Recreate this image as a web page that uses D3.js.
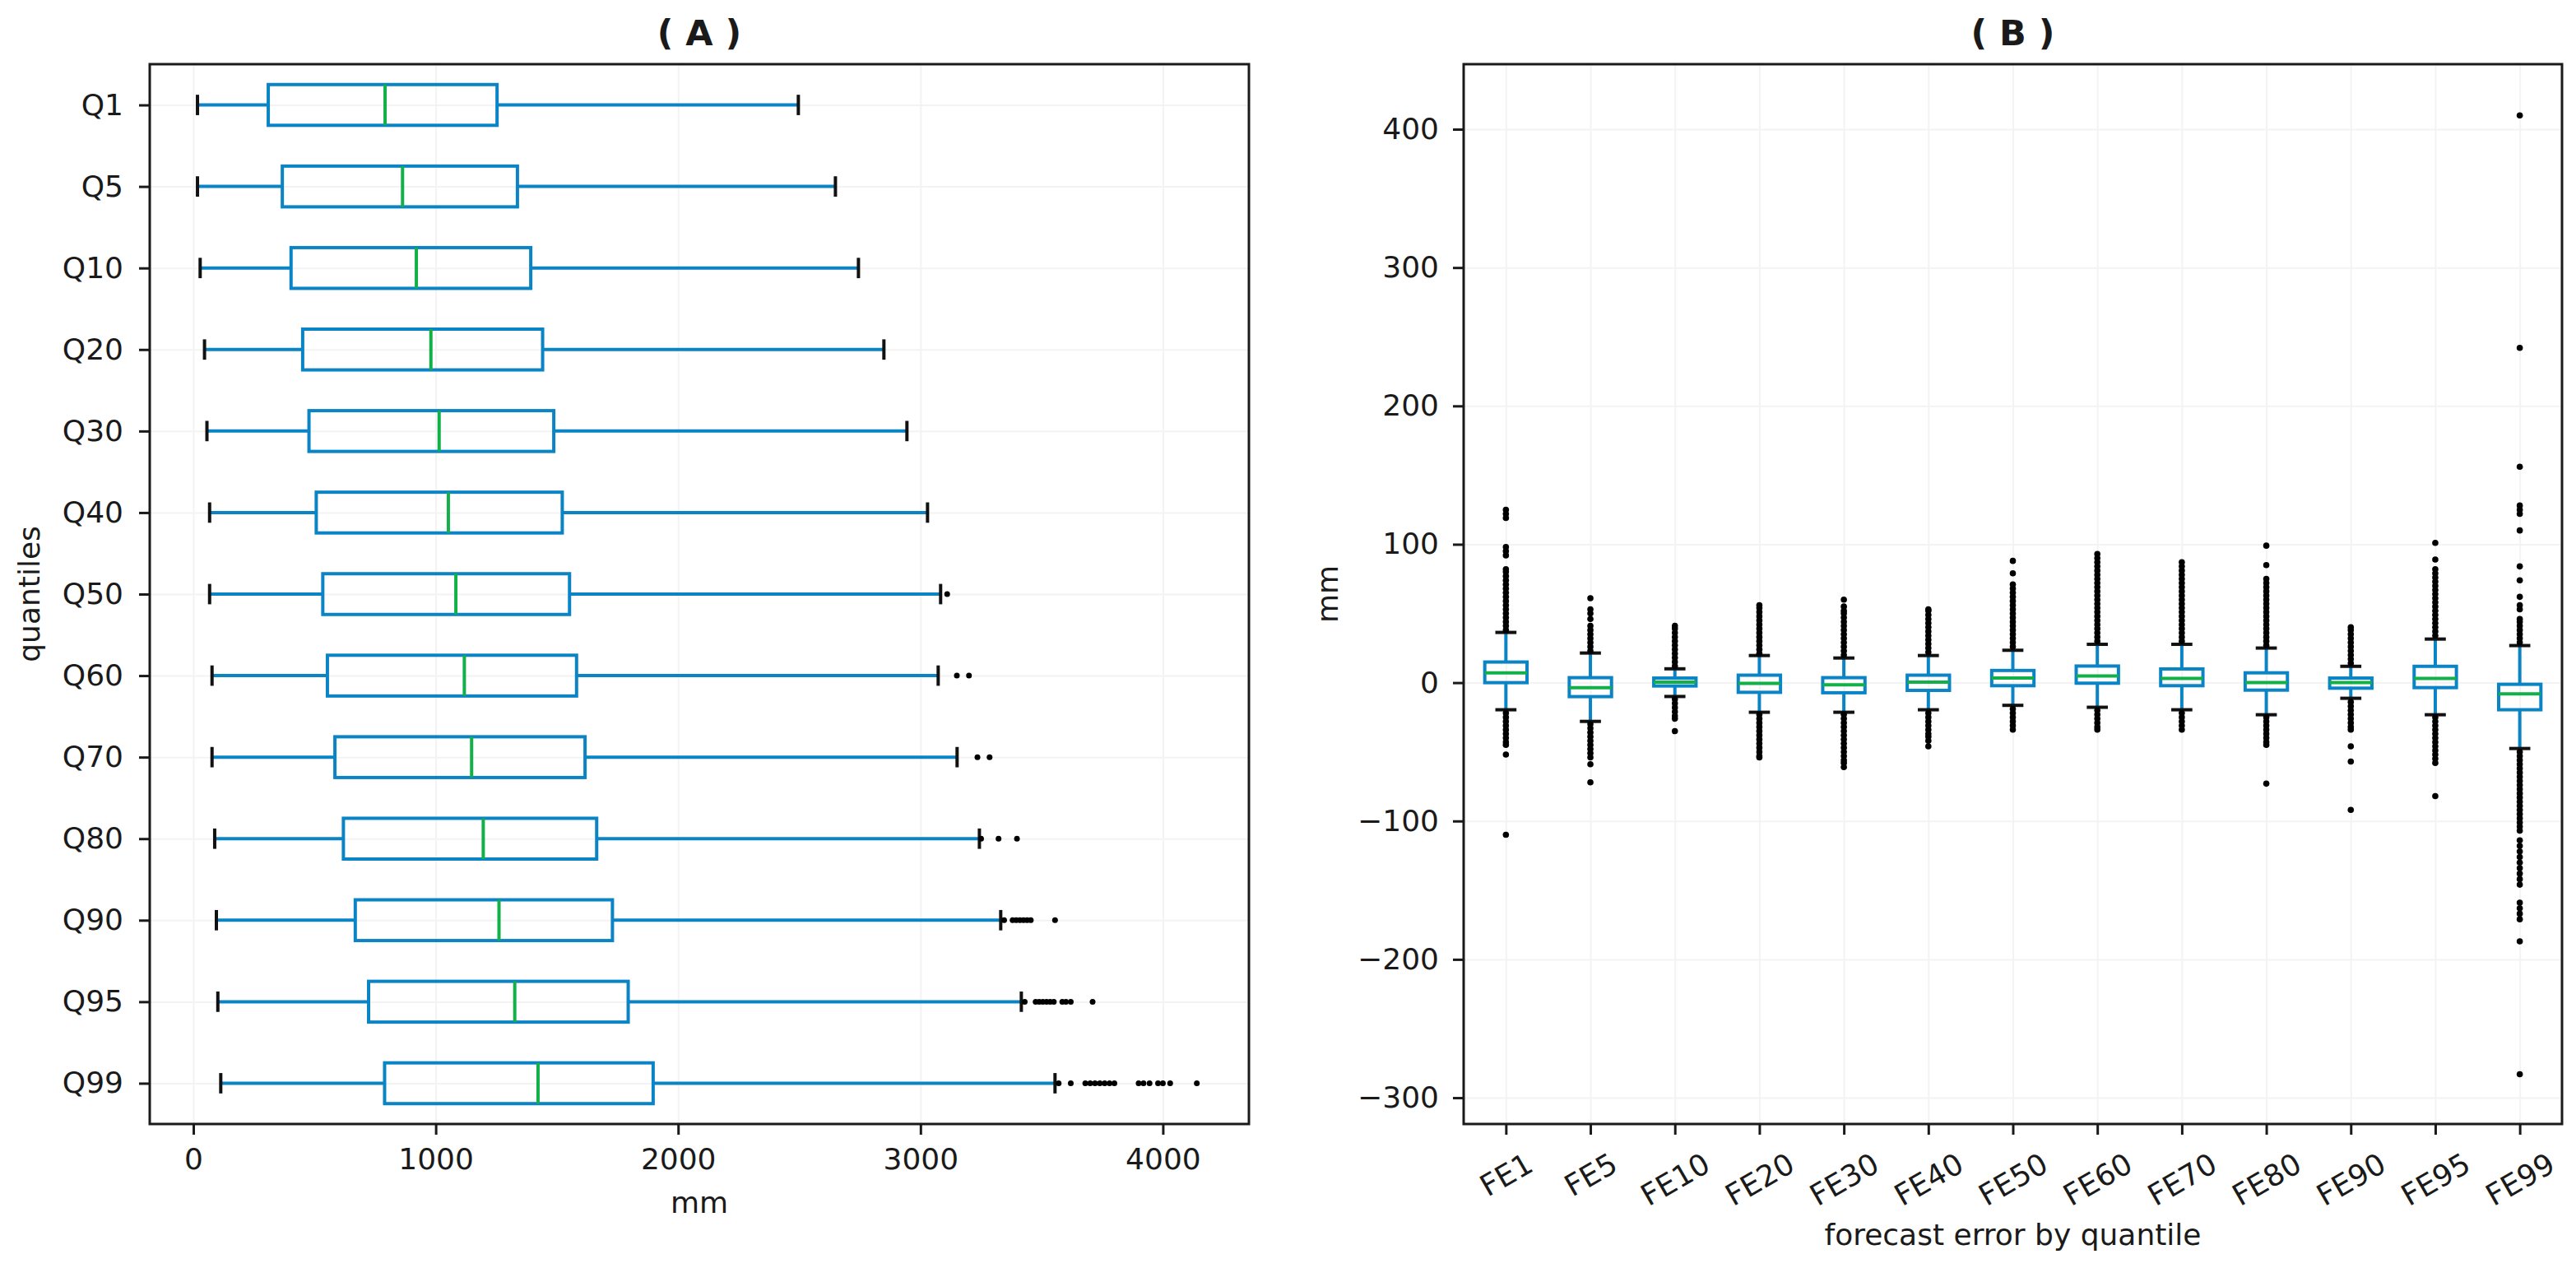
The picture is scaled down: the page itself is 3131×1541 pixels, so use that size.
<!DOCTYPE html>
<html lang="en">
<head>
<meta charset="UTF-8">
<title>Quantile boxplots</title>
<script src="https://cdnjs.cloudflare.com/ajax/libs/d3/7.8.5/d3.min.js"></script>
<style>
  body { margin: 0; background: #fff; }
  text { font-family: "DejaVu Sans", sans-serif; fill: #1a1a1a; }
</style>
</head>
<body>
<div id="draw-here"></div>
<script>
/* global d3 */

// ---- panel A: values by quantile (mm) ----
var qLabels = ["Q1","Q5","Q10","Q20","Q30","Q40","Q50","Q60","Q70","Q80","Q90","Q95","Q99"];
var qLow  = [17, 17, 28, 46, 56, 67, 67, 77, 77, 88, 95, 101, 113];
var qQ1   = [309, 367, 403, 451, 477, 507, 534, 553, 584, 619, 668, 723, 789];
var qMed  = [791, 863, 920, 980, 1014, 1052, 1083, 1118, 1148, 1196, 1261, 1326, 1422];
var qQ3   = [1253, 1337, 1392, 1441, 1487, 1522, 1552, 1581, 1616, 1664, 1729, 1794, 1897];
var qHigh = [2496, 2649, 2744, 2849, 2944, 3029, 3083, 3073, 3151, 3243, 3331, 3416, 3555];
var qOut  = [
    [], [], [], [], [], [],
    [3110],
    [3150, 3200],
    [3235, 3285],
    [3250, 3322, 3398],
    [3345, 3380, 3395, 3410, 3425, 3440, 3455, 3555],
    [3430, 3475, 3490, 3505, 3520, 3535, 3550, 3585, 3600, 3620, 3710],
    [3570, 3620, 3680, 3700, 3720, 3740, 3760, 3780, 3800, 3900, 3920, 3945, 3980, 4000, 4030, 4140]
];
var qTicks = [0, 1000, 2000, 3000, 4000];

// ---- panel B: forecast error by quantile (mm) ----
var feLabels = ["FE1","FE5","FE10","FE20","FE30","FE40","FE50","FE60","FE70","FE80","FE90","FE95","FE99"];
var feLow  = [-19.6, -28, -10, -21.4, -21.4, -19.6, -16.4, -17.8, -19.6, -23.2, -11.3, -23.2, -47.6];
var feQ1   = [0, -10.1, -2.4, -7, -7.3, -5.6, -2.2, -0.4, -2.2, -5.4, -4, -3.6, -19.6];
var feMed  = [7.1, -3.6, 0.3, -0.5, -1.5, 0.3, 3.3, 4.8, 3, 0, 0, 3, -8.1];
var feQ3   = [14.9, 3.6, 3.3, 5.4, 3.6, 5.4, 8.8, 12, 9.9, 7.1, 3.3, 11.8, -1.2];
var feHigh = [36.3, 21.4, 10, 19.6, 17.8, 19.6, 23.4, 27.7, 27.7, 25, 11.8, 31.5, 26.8];
var feOut  = [
    [38,41,44,47,50,53,56,59,62,65,68,71,74,77,80,82,92,95,98,119,122,125, -22,-25,-28,-31,-34,-37,-40,-43,-45,-52,-110],
    [23,26,29,32,35,38,41,46,50,53,61, -30,-33,-36,-39,-42,-45,-48,-51,-54,-59,-72],
    [12,15,18,21,24,27,30,33,36,39,41, -12,-15,-18,-21,-24,-26,-35],
    [21,24,27,30,33,36,39,42,45,48,51,54,56, -23,-26,-29,-32,-35,-38,-41,-44,-47,-50,-53,-54],
    [20,23,26,29,32,35,38,41,44,47,50,52,55,60, -23,-26,-29,-32,-35,-38,-41,-44,-47,-50,-53,-56,-58,-61],
    [22,25,28,31,34,37,40,43,46,49,52,53, -22,-25,-28,-31,-34,-37,-39,-42,-46],
    [26,29,32,35,38,41,44,47,50,53,56,59,62,65,68,71,79,88, -19,-22,-25,-28,-31,-34],
    [30,33,36,39,42,45,48,51,54,57,60,63,66,69,72,75,78,81,84,87,90,93, -20,-23,-26,-29,-32,-34],
    [30,33,36,39,42,45,48,51,54,57,60,63,66,69,72,75,78,81,84,87, -22,-25,-28,-31,-34],
    [27,30,33,36,39,42,45,48,51,54,57,60,63,66,69,72,75,85,99, -25,-28,-31,-34,-37,-40,-43,-45,-73],
    [14,17,20,23,26,29,32,35,38,40, -14,-17,-20,-23,-26,-29,-32,-34,-46,-57,-92],
    [34,37,40,43,46,49,52,55,58,61,64,67,70,73,76,79,82,89,101, -25,-28,-31,-34,-37,-40,-43,-46,-49,-52,-55,-58,-82],
    [29,32,35,38,41,44,46,53,56,62,74,84,110,122,125,128,156,242,410,
     -50,-53,-56,-59,-62,-65,-68,-71,-74,-77,-80,-83,-86,-89,-92,-95,-98,-101,-104,-107,
     -114,-118,-122,-126,-130,-134,-138,-142,-146,-159,-163,-167,-171,-187,-283]
];
var feTicks = [-300, -200, -100, 0, 100, 200, 300, 400];

// colours and sizes
var boxColor = "#0b84c6";
var medColor = "#12b048";
var capColor = "#111111";
var gridColor = "#f3f3f3";
var lw = 4;
var fs = 36;

var w = 3131, h = 1541;
var plotTop = 78, plotBottom = 1366;
var aLeft = 182, aRight = 1518;
var bLeft = 1779, bRight = 3114;

var svg = d3.select("#draw-here")
    .append("svg")
    .attr("width", w)
    .attr("height", h);

// scales
var xA = d3.scaleLinear().domain([-180, 4355]).range([aLeft, aRight]);
var yA = d3.scalePoint().domain(qLabels).range([plotTop, plotBottom]).padding(0.5);
var xB = d3.scalePoint().domain(feLabels).range([bLeft, bRight]).padding(0.5);
var yB = d3.scaleLinear().domain([-319, 447]).range([plotBottom, plotTop]);

function style_grid(g) {
    g.select(".domain").remove();
    g.selectAll("line").attr("stroke", gridColor).attr("stroke-width", 2);
}

function style_axis(g) {
    g.select(".domain").remove();
    g.attr("font-size", fs).attr("font-family", "DejaVu Sans").attr("color", "#1a1a1a");
    g.selectAll("line").attr("stroke-width", 3);
}

// ---- grids ----
svg.append("g").attr("transform", "translate(0," + plotBottom + ")")
    .call(d3.axisBottom(xA).tickValues(qTicks).tickSize(-(plotBottom - plotTop)).tickFormat(""))
    .call(style_grid);
svg.append("g").attr("transform", "translate(" + aLeft + ",0)")
    .call(d3.axisLeft(yA).tickSize(-(aRight - aLeft)).tickFormat(""))
    .call(style_grid);
svg.append("g").attr("transform", "translate(0," + plotBottom + ")")
    .call(d3.axisBottom(xB).tickSize(-(plotBottom - plotTop)).tickFormat(""))
    .call(style_grid);
svg.append("g").attr("transform", "translate(" + bLeft + ",0)")
    .call(d3.axisLeft(yB).tickValues(feTicks).tickSize(-(bRight - bLeft)).tickFormat(""))
    .call(style_grid);

// ---- panel A boxes (horizontal) ----
var gA = svg.append("g");
var halfA = yA.step() * 0.25;
qLabels.forEach(function(q, i) {
    var y = yA(q);
    gA.append("line").attr("x1", xA(qLow[i])).attr("x2", xA(qQ1[i])).attr("y1", y).attr("y2", y)
        .attr("stroke", boxColor).attr("stroke-width", lw);
    gA.append("line").attr("x1", xA(qQ3[i])).attr("x2", xA(qHigh[i])).attr("y1", y).attr("y2", y)
        .attr("stroke", boxColor).attr("stroke-width", lw);
    gA.append("rect").attr("x", xA(qQ1[i])).attr("y", y - halfA)
        .attr("width", xA(qQ3[i]) - xA(qQ1[i])).attr("height", 2 * halfA)
        .attr("fill", "none").attr("stroke", boxColor).attr("stroke-width", lw);
    gA.append("line").attr("x1", xA(qMed[i])).attr("x2", xA(qMed[i])).attr("y1", y - halfA).attr("y2", y + halfA)
        .attr("stroke", medColor).attr("stroke-width", lw);
    [qLow[i], qHigh[i]].forEach(function(v) {
        gA.append("line").attr("x1", xA(v)).attr("x2", xA(v)).attr("y1", y - halfA / 2).attr("y2", y + halfA / 2)
            .attr("stroke", capColor).attr("stroke-width", lw);
    });
    gA.selectAll(null).data(qOut[i]).enter().append("circle")
        .attr("cx", function(d) { return xA(d); })
        .attr("cy", y)
        .attr("r", 3.5)
        .attr("fill", "#000");
});

// ---- panel B boxes (vertical) ----
var gB = svg.append("g");
var halfB = xB.step() * 0.25;
feLabels.forEach(function(f, i) {
    var x = xB(f);
    gB.append("line").attr("x1", x).attr("x2", x).attr("y1", yB(feLow[i])).attr("y2", yB(feQ1[i]))
        .attr("stroke", boxColor).attr("stroke-width", lw);
    gB.append("line").attr("x1", x).attr("x2", x).attr("y1", yB(feQ3[i])).attr("y2", yB(feHigh[i]))
        .attr("stroke", boxColor).attr("stroke-width", lw);
    gB.append("rect").attr("x", x - halfB).attr("y", yB(feQ3[i]))
        .attr("width", 2 * halfB).attr("height", yB(feQ1[i]) - yB(feQ3[i]))
        .attr("fill", "none").attr("stroke", boxColor).attr("stroke-width", lw);
    gB.append("line").attr("x1", x - halfB).attr("x2", x + halfB).attr("y1", yB(feMed[i])).attr("y2", yB(feMed[i]))
        .attr("stroke", medColor).attr("stroke-width", lw);
    [feLow[i], feHigh[i]].forEach(function(v) {
        gB.append("line").attr("x1", x - halfB / 2).attr("x2", x + halfB / 2).attr("y1", yB(v)).attr("y2", yB(v))
            .attr("stroke", capColor).attr("stroke-width", lw);
    });
    gB.selectAll(null).data(feOut[i]).enter().append("circle")
        .attr("cx", x)
        .attr("cy", function(d) { return yB(d); })
        .attr("r", 3.8)
        .attr("fill", "#000");
});

// ---- spines ----
[[aLeft, aRight], [bLeft, bRight]].forEach(function(p) {
    svg.append("rect").attr("x", p[0]).attr("y", plotTop)
        .attr("width", p[1] - p[0]).attr("height", plotBottom - plotTop)
        .attr("fill", "none").attr("stroke", "#1a1a1a").attr("stroke-width", 3);
});

// ---- axes ----
svg.append("g").attr("transform", "translate(0," + plotBottom + ")")
    .call(d3.axisBottom(xA).tickValues(qTicks).tickSize(13).tickPadding(16).tickFormat(d3.format("d")))
    .call(style_axis);
svg.append("g").attr("transform", "translate(" + aLeft + ",0)")
    .call(d3.axisLeft(yA).tickSize(13).tickPadding(19))
    .call(style_axis);
svg.append("g").attr("transform", "translate(" + bLeft + ",0)")
    .call(d3.axisLeft(yB).tickValues(feTicks).tickSize(13).tickPadding(17).tickFormat(d3.format("d")))
    .call(style_axis);

var axB = svg.append("g").attr("transform", "translate(0," + plotBottom + ")")
    .call(d3.axisBottom(xB).tickSize(13).tickPadding(14))
    .call(style_axis);
// rotated tick labels, centred on the tick like matplotlib rot=30
axB.selectAll(".tick text").each(function() {
    var t = d3.select(this);
    var len = this.getComputedTextLength();
    var boxH = len * 0.5 + fs * 1.16 * 0.866;
    var cy = 13 + 14 + boxH / 2;
    t.attr("y", null).attr("dy", null)
        .attr("text-anchor", "middle")
        .attr("dominant-baseline", "central")
        .attr("transform", "translate(0," + cy + ") rotate(-30)");
});

// ---- labels and titles ----
svg.append("text").attr("x", (aLeft + aRight) / 2).attr("y", 1474)
    .attr("text-anchor", "middle").attr("font-size", fs).text("mm");
svg.append("text").attr("transform", "translate(48," + (plotTop + plotBottom) / 2 + ") rotate(-90)")
    .attr("text-anchor", "middle").attr("font-size", fs).text("quantiles");
svg.append("text").attr("x", (bLeft + bRight) / 2).attr("y", 1513)
    .attr("text-anchor", "middle").attr("font-size", fs).text("forecast error by quantile");
svg.append("text").attr("transform", "translate(1626," + (plotTop + plotBottom) / 2 + ") rotate(-90)")
    .attr("text-anchor", "middle").attr("font-size", fs).text("mm");

svg.append("text").attr("x", (aLeft + aRight) / 2).attr("y", 55)
    .attr("text-anchor", "middle").attr("font-size", 43).attr("font-weight", "bold").text("( A )");
svg.append("text").attr("x", (bLeft + bRight) / 2).attr("y", 55)
    .attr("text-anchor", "middle").attr("font-size", 43).attr("font-weight", "bold").text("( B )");
</script>
</body>
</html>
